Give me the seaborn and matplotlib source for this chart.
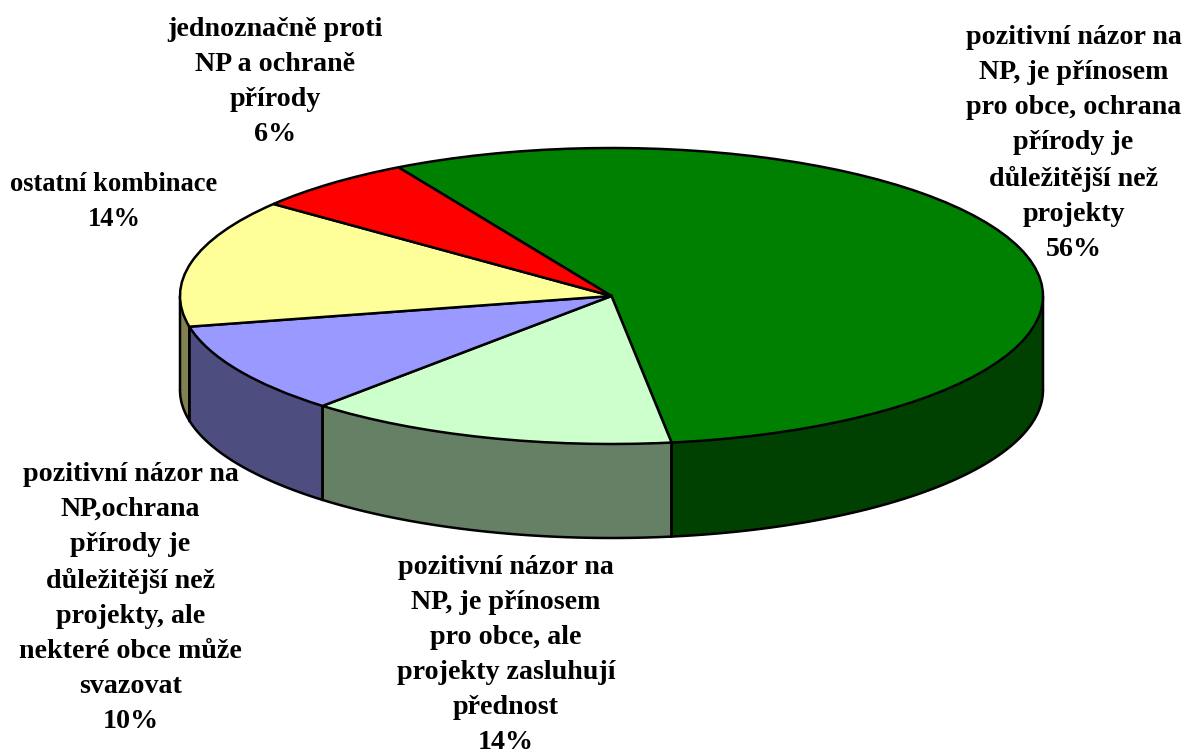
import numpy as np
import matplotlib
matplotlib.use("Agg")
import matplotlib.pyplot as plt
import seaborn as sns

# clockwise from the top left, like the original
labels = ["pozitivní názor na\nNP, je přínosem\npro obce, ochrana\npřírody je\ndůležitější než\nprojekty\n56%",
          "pozitivní názor na\nNP, je přínosem\npro obce, ale\nprojekty zasluhují\npřednost\n14%",
          "pozitivní názor na\nNP,ochrana\npřírody je\ndůležitější než\nprojekty, ale\nnekteré obce může\nsvazovat\n10%",
          "ostatní kombinace\n14%",
          "jednoznačně proti\nNP a ochraně\npřírody\n6%"]
# slice sizes, the printed labels are rounded
values = [56, 13.9, 10, 14, 6.1]
colors = ["#008000", "#CCFFCC", "#9999FF", "#FFFF99", "#FF0000"]
side_colors = ["#004000", "#668066", "#4D4D80", "#808050", "#800000"]
label_x = [1073.5, 506, 130.5, 114, 275]
label_top = [25, 555, 462, 172, 17]
label_size = [20.2, 20.2, 20.2, 19.1, 20.2]

W, H = 1184, 753
cx, cy, rx, ry, depth = 611.5, 296, 431.5, 148, 94
start = 119.6

sns.set_theme(style="white")
plt.rcParams["font.family"] = ["Liberation Serif", "DejaVu Serif"]

fig = plt.figure(figsize=(W / 100, H / 100), dpi=100, facecolor="white")
ax = fig.add_axes([0, 0, 1, 1])

ax.pie(values, colors=colors, startangle=start, counterclock=False, radius=1,
       wedgeprops={"edgecolor": "black", "linewidth": 1.8, "zorder": 3})
# stretch the unit circle to the flat ellipse
ax.set_aspect("auto")
ax.set_xlim(-cx / rx, (W - cx) / rx)
ax.set_ylim(-(H - cy) / ry, cy / ry)
d = depth / ry

# side wall, only the part of each slice that faces the viewer (-180..0)
edges = start - np.cumsum([0] + values) * 3.6
for i in range(len(values)):
    a0 = max(edges[i + 1], -180)
    a1 = min(edges[i], 0)
    if a1 <= a0:
        continue
    t = np.radians(np.linspace(a0, a1, 120))
    ax.fill_between(np.cos(t), np.sin(t), np.sin(t) - d, color=side_colors[i], lw=0, zorder=1)
    ax.plot(np.cos(t), np.sin(t) - d, color="black", lw=1.8, zorder=2, solid_capstyle="round")
    for a in (t[0], t[-1]):
        ax.plot([np.cos(a)] * 2, [np.sin(a), np.sin(a) - d], color="black", lw=1.8, zorder=2,
                solid_capstyle="round", snap=False)

for txt, x, y, s in zip(labels, label_x, label_top, label_size):
    ax.text(x / W, 1 - y / H, txt, transform=ax.transAxes, ha="center", va="top",
            fontsize=s, fontweight="bold", color="black", linespacing=1.53, zorder=5)

fig.savefig("out.png", dpi=100, facecolor="white")
